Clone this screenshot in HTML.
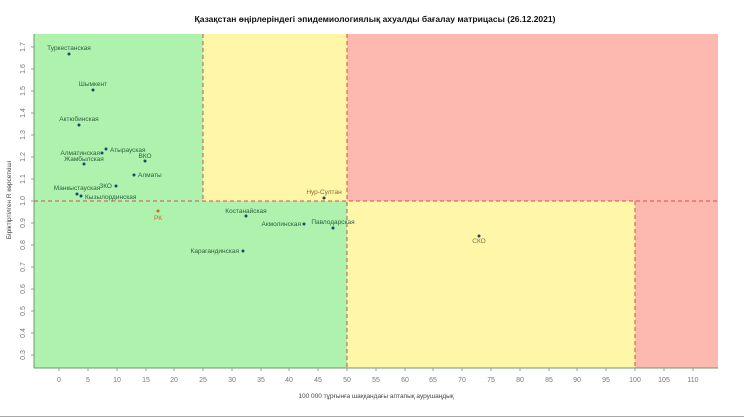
<!DOCTYPE html>
<html><head><meta charset="utf-8"><style>
body{margin:0;background:#fff;width:744px;height:418px;overflow:hidden}
svg{display:block;font-family:"Liberation Sans",sans-serif}
</style></head><body>
<svg width="744" height="418" viewBox="0 0 744 418">
<text x="375" y="22" font-size="8.5" font-weight="bold" text-anchor="middle" fill="#111">Қазақстан өңірлеріндегі эпидемиологиялық ахуалды бағалау матрицасы  (26.12.2021)</text>
<!-- zones -->
<rect x="34" y="34" width="169" height="167" fill="#aef2ad"/>
<rect x="203" y="34" width="144" height="167" fill="#fff6a8"/>
<rect x="347" y="34" width="371" height="167" fill="#fdb8b0"/>
<rect x="34" y="201" width="313" height="167" fill="#aef2ad"/>
<rect x="347" y="201" width="288" height="167" fill="#fff6a8"/>
<rect x="635" y="201" width="83" height="167" fill="#fdb8b0"/>
<g stroke="#d05050" stroke-width="1" stroke-dasharray="4,3" fill="none">
<line x1="34" y1="201" x2="718" y2="201"/>
<line x1="203" y1="34" x2="203" y2="201"/>
<line x1="347" y1="34" x2="347" y2="368"/>
<line x1="635" y1="201" x2="635" y2="368"/>
</g>
<g stroke="#6a9a6a" stroke-width="1">
<line x1="34" y1="368" x2="718" y2="368"/>
<line x1="34" y1="34" x2="34" y2="368"/>
</g>
<!-- x ticks -->
<g font-size="7" fill="#777" text-anchor="middle" stroke="#999">
<g id="xt"></g>
</g>
<g font-size="7" fill="#777" text-anchor="middle">
<text x="59" y="382">0</text><text x="88" y="382">5</text><text x="117" y="382">10</text><text x="146" y="382">15</text><text x="174" y="382">20</text><text x="203" y="382">25</text><text x="232" y="382">30</text><text x="261" y="382">35</text><text x="289" y="382">40</text><text x="318" y="382">45</text><text x="347" y="382">50</text><text x="376" y="382">55</text><text x="405" y="382">60</text><text x="433" y="382">65</text><text x="462" y="382">70</text><text x="491" y="382">75</text><text x="520" y="382">80</text><text x="549" y="382">85</text><text x="577" y="382">90</text><text x="606" y="382">95</text><text x="635" y="382">100</text><text x="664" y="382">105</text><text x="693" y="382">110</text>
</g>
<g stroke="#999" stroke-width="1">
<path d="M59 368v3M88 368v3M117 368v3M146 368v3M174 368v3M203 368v3M232 368v3M261 368v3M289 368v3M318 368v3M347 368v3M376 368v3M405 368v3M433 368v3M462 368v3M491 368v3M520 368v3M549 368v3M577 368v3M606 368v3M635 368v3M664 368v3M693 368v3"/>
<path d="M31 355h3M31 333h3M31 311h3M31 289h3M31 267h3M31 245h3M31 223h3M31 201h3M31 179h3M31 157h3M31 135h3M31 113h3M31 91h3M31 69h3M31 47h3"/>
</g>
<g font-size="7" fill="#777" text-anchor="middle">
<text transform="translate(25,355) rotate(-90)">0.3</text>
<text transform="translate(25,333) rotate(-90)">0.4</text>
<text transform="translate(25,311) rotate(-90)">0.5</text>
<text transform="translate(25,289) rotate(-90)">0.6</text>
<text transform="translate(25,267) rotate(-90)">0.7</text>
<text transform="translate(25,245) rotate(-90)">0.8</text>
<text transform="translate(25,223) rotate(-90)">0.9</text>
<text transform="translate(25,201) rotate(-90)">1.0</text>
<text transform="translate(25,179) rotate(-90)">1.1</text>
<text transform="translate(25,157) rotate(-90)">1.2</text>
<text transform="translate(25,135) rotate(-90)">1.3</text>
<text transform="translate(25,113) rotate(-90)">1.4</text>
<text transform="translate(25,91) rotate(-90)">1.5</text>
<text transform="translate(25,69) rotate(-90)">1.6</text>
<text transform="translate(25,47) rotate(-90)">1.7</text>
</g>
<text x="376" y="398" font-size="6.5" fill="#444" text-anchor="middle">100 000 тұрғынға шаққандағы аптапық аурушаңдық</text>
<text transform="translate(11,200) rotate(-90)" font-size="6.5" fill="#444" text-anchor="middle">Біріктіртілген R көрсеткіші</text>
<!-- points -->
<g fill="#1a4a6a">
<circle cx="69" cy="54" r="1.5"/><circle cx="93" cy="90" r="1.5"/><circle cx="79" cy="125" r="1.5"/>
<circle cx="106" cy="149" r="1.5"/><circle cx="102" cy="153" r="1.5"/><circle cx="84" cy="164" r="1.5"/>
<circle cx="145" cy="161" r="1.5"/><circle cx="134" cy="175" r="1.5"/><circle cx="116" cy="186" r="1.5"/>
<circle cx="77" cy="194" r="1.5"/><circle cx="81" cy="196" r="1.5"/><circle cx="246" cy="216" r="1.5"/>
<circle cx="324" cy="198" r="1.5"/><circle cx="304" cy="224" r="1.5"/><circle cx="333" cy="228" r="1.5"/>
<circle cx="243" cy="251" r="1.5"/><circle cx="479" cy="236" r="1.5"/>
</g>
<circle cx="158" cy="211" r="1.5" fill="#c07020"/>
<g font-size="6.5" fill="#2f5f3f">
<text x="69" y="50" text-anchor="middle">Туркестанская</text>
<text x="93" y="86" text-anchor="middle">Шымкент</text>
<text x="79" y="121" text-anchor="middle">Актюбинская</text>
<text x="100" y="155" text-anchor="end">Алматинская</text>
<text x="110" y="152">Атырауская</text>
<text x="84" y="161" text-anchor="middle">Жамбылская</text>
<text x="145" y="158" text-anchor="middle">ВКО</text>
<text x="138" y="177">Алматы</text>
<text x="112" y="188" text-anchor="end">ЗКО</text>
<text x="77" y="190" text-anchor="middle">Манкыстауская</text>
<text x="85" y="199">Кызылординская</text>
<text x="246" y="213" text-anchor="middle">Костанайская</text>
<text x="301" y="226" text-anchor="end">Акмолинская</text>
<text x="333" y="224" text-anchor="middle">Павлодарская</text>
<text x="239" y="253" text-anchor="end">Карагандинская</text>
</g>
<g font-size="6.5" fill="#8a6a3a" text-anchor="middle">
<text x="324" y="194">Нур-Султан</text>
<text x="479" y="243">СКО</text>
</g>
<text x="158" y="220" font-size="6.5" fill="#c07020" text-anchor="middle">РК</text>
<line x1="0" y1="416.5" x2="744" y2="416.5" stroke="#aaa"/>
</svg>
</body></html>
